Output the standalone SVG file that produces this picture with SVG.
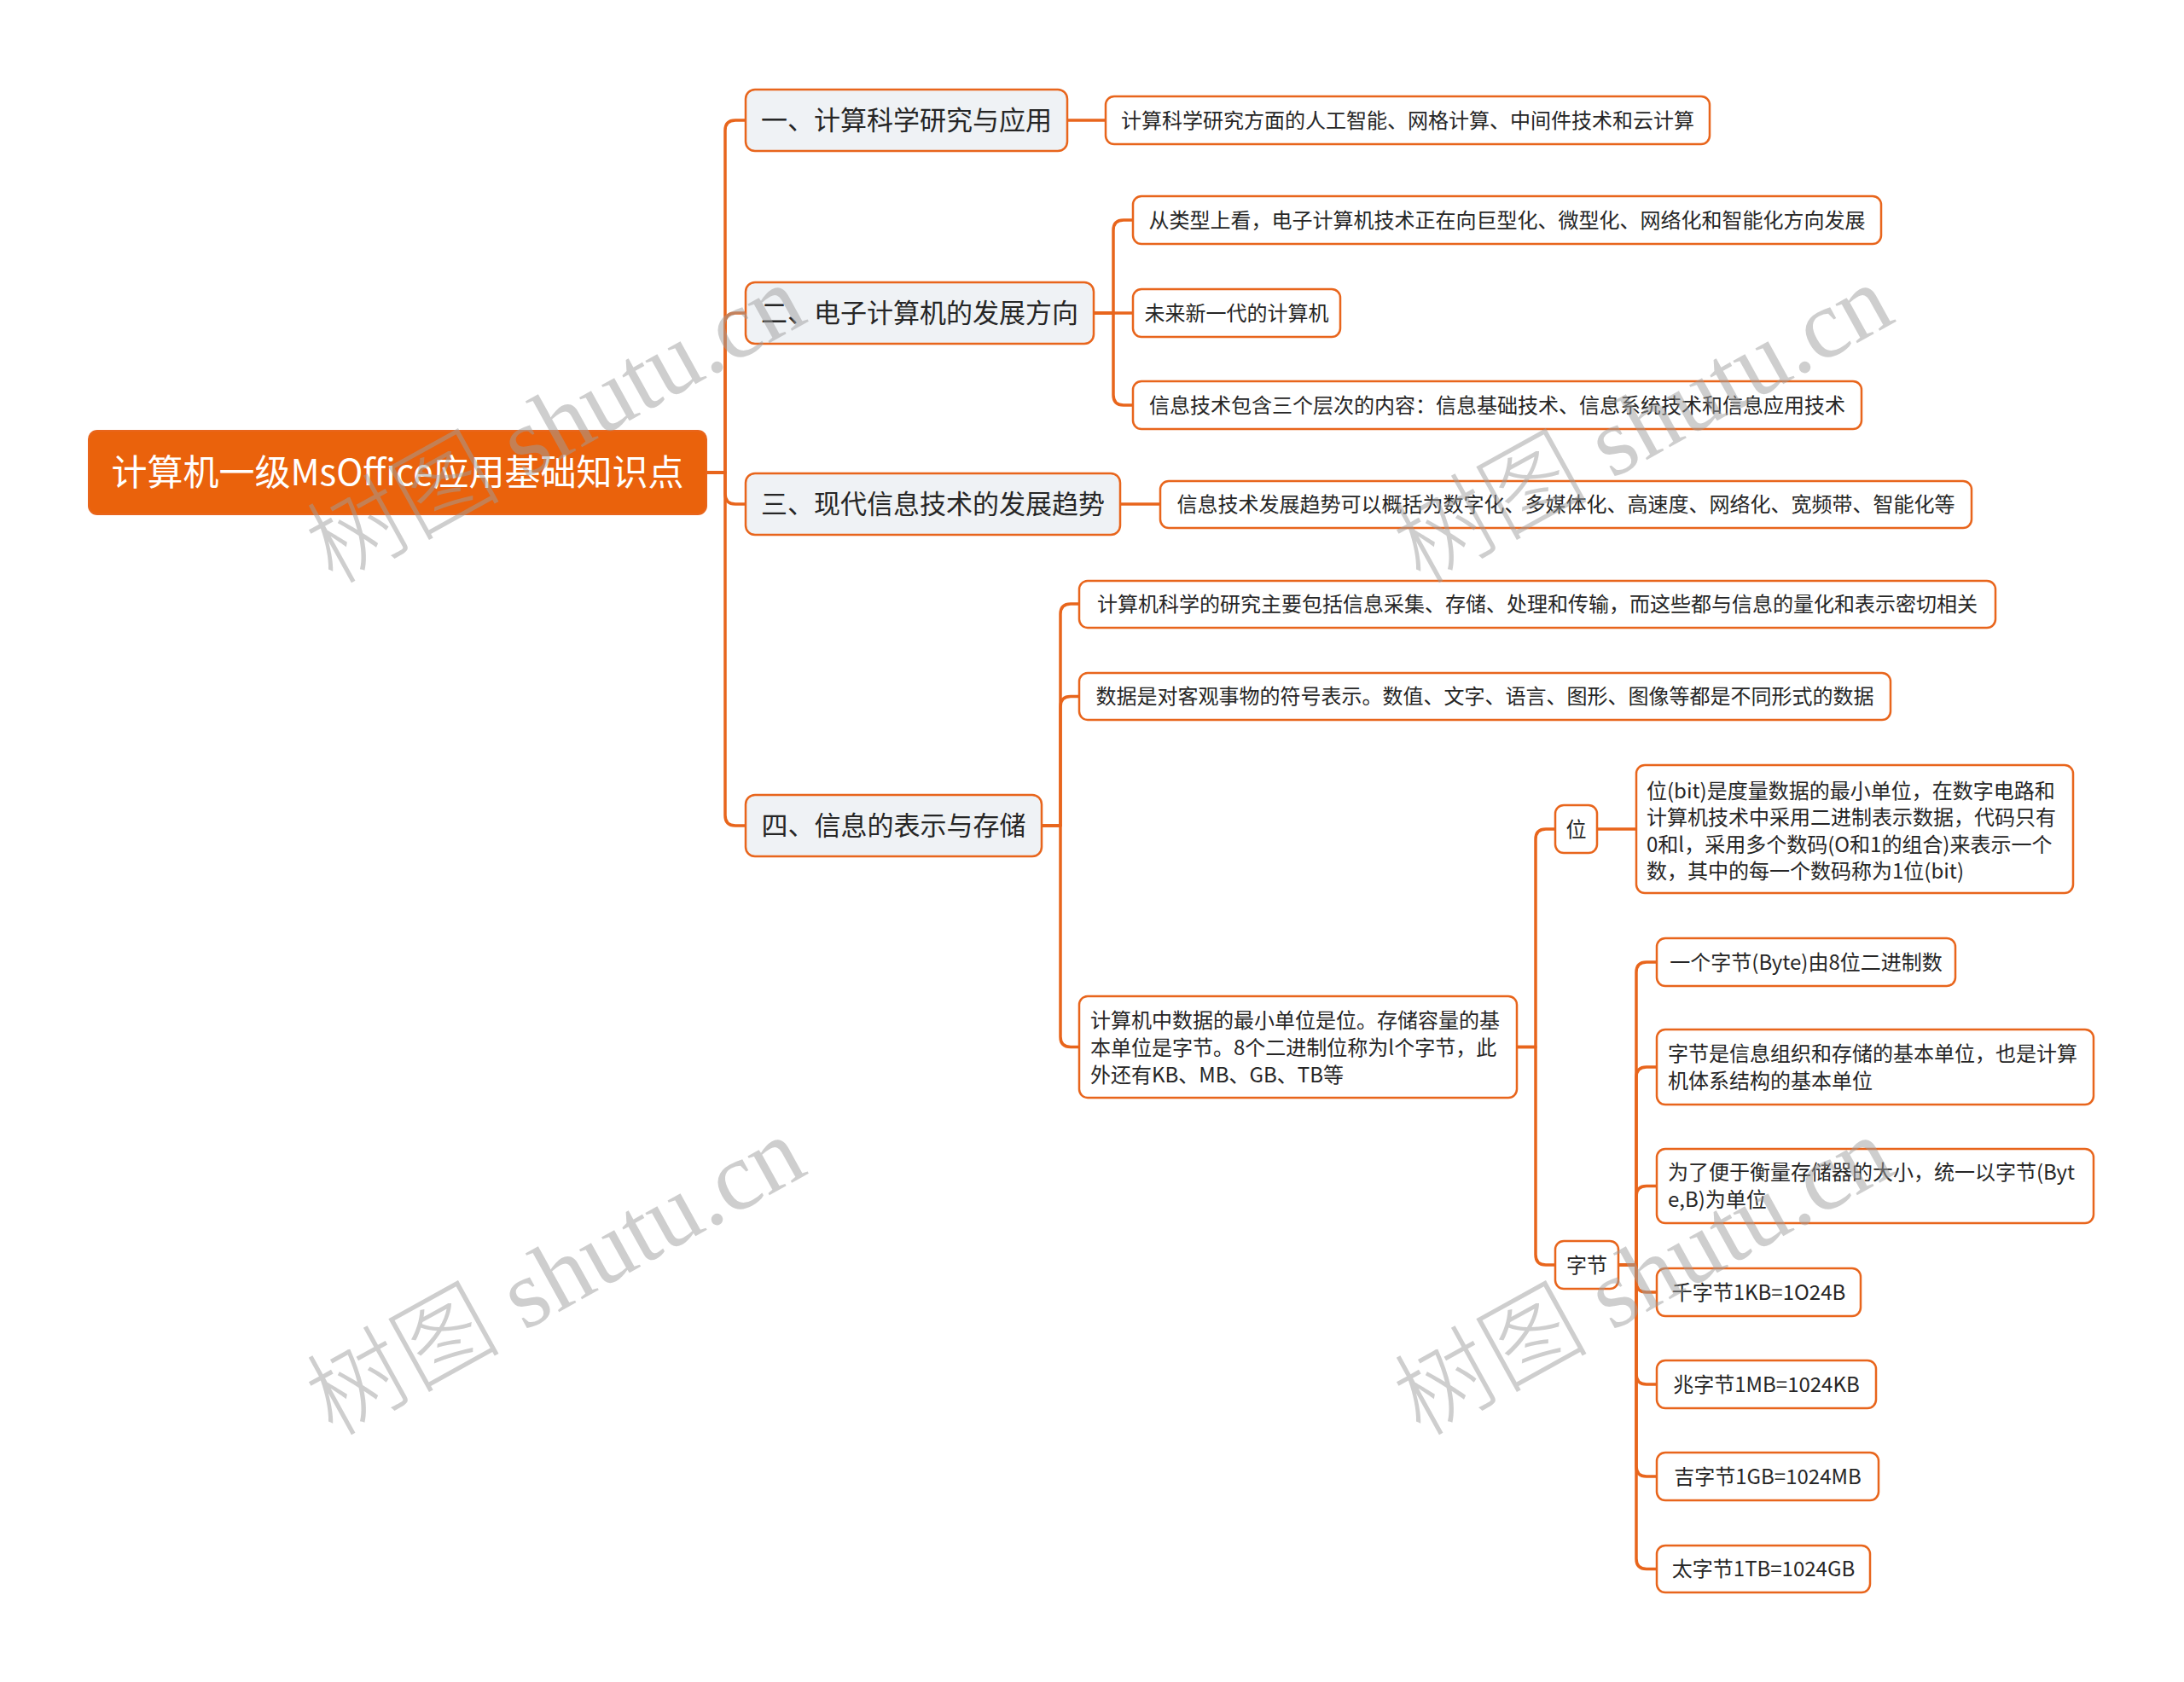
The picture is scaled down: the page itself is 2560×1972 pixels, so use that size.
<svg xmlns="http://www.w3.org/2000/svg" width="2560" height="1972" viewBox="0 0 2560 1972">
<style>
.conn { fill:none; stroke:#E8651C; stroke-width:3.5; stroke-linejoin:round; }
.root rect { fill:#EA620C; stroke:#E8651C; stroke-width:2; }
.root text { fill:#FFFFFF; font-size:42px; text-anchor:middle; }
.l1 rect { fill:#EFF2F5; stroke:#E8651C; stroke-width:2.5; }
.l1 text { font-size:31px; text-anchor:middle; }
.l2 rect { fill:#FFFFFF; stroke:#E8651C; stroke-width:2.5; }
.l2 text { font-size:24px; text-anchor:middle; }
.l2 text.ml { text-anchor:start; }
text { font-family:"Noto Sans CJK SC", "Noto Sans", sans-serif; fill:#262626; }
.wm { font-family:"Liberation Serif", "Noto Sans CJK SC", serif; font-size:114px; font-weight:300; fill:#9E9E9E; opacity:0.5; }
</style>
<rect x="0" y="0" width="2560" height="1972" fill="#FFFFFF"/>
<g id="connectors">
<path class="conn" d="M828,554 H850 V153 Q850,141 862,141 H874"/>
<path class="conn" d="M828,554 H850 V379 Q850,367 862,367 H874"/>
<path class="conn" d="M828,554 H850 V579 Q850,591 862,591 H874"/>
<path class="conn" d="M828,554 H850 V956 Q850,968 862,968 H874"/>
<path class="conn" d="M1251,141 H1296"/>
<path class="conn" d="M1282,367 H1305 V270 Q1305,258 1317,258 H1328"/>
<path class="conn" d="M1282,367 H1328"/>
<path class="conn" d="M1282,367 H1305 V463 Q1305,475 1317,475 H1328"/>
<path class="conn" d="M1313,591 H1360"/>
<path class="conn" d="M1221,968 H1243 V720 Q1243,708 1255,708 H1265"/>
<path class="conn" d="M1221,968 H1243 V828.5 Q1243,816.5 1255,816.5 H1265"/>
<path class="conn" d="M1221,968 H1243 V1215.5 Q1243,1227.5 1255,1227.5 H1265"/>
<path class="conn" d="M1778,1227.5 H1800 V984 Q1800,972 1812,972 H1823"/>
<path class="conn" d="M1778,1227.5 H1800 V1471 Q1800,1483 1812,1483 H1823"/>
<path class="conn" d="M1872,972 H1918"/>
<path class="conn" d="M1897,1483 H1918 V1140 Q1918,1128 1930,1128 H1942"/>
<path class="conn" d="M1897,1483 H1918 V1263 Q1918,1251 1930,1251 H1942"/>
<path class="conn" d="M1897,1483 H1918 V1402.5 Q1918,1390.5 1930,1390.5 H1942"/>
<path class="conn" d="M1897,1483 H1918 V1503 Q1918,1515 1930,1515 H1942"/>
<path class="conn" d="M1897,1483 H1918 V1611 Q1918,1623 1930,1623 H1942"/>
<path class="conn" d="M1897,1483 H1918 V1719 Q1918,1731 1930,1731 H1942"/>
<path class="conn" d="M1897,1483 H1918 V1827.5 Q1918,1839.5 1930,1839.5 H1942"/>
</g>
<g id="root" class="root">
<rect x="104" y="505" width="724" height="98" rx="10"/>
<text x="466" y="569">计算机一级MsOffice应用基础知识点</text>
</g>
<g id="n1" class="l1">
<rect x="874" y="105" width="377" height="72" rx="11"/>
<text x="1062.5" y="152">一、计算科学研究与应用</text>
</g>
<g id="n2" class="l1">
<rect x="874" y="331" width="408" height="72" rx="11"/>
<text x="1078" y="378">二、电子计算机的发展方向</text>
</g>
<g id="n3" class="l1">
<rect x="874" y="555" width="439" height="72" rx="11"/>
<text x="1093.5" y="602">三、现代信息技术的发展趋势</text>
</g>
<g id="n4" class="l1">
<rect x="874" y="932" width="347" height="72" rx="11"/>
<text x="1047.5" y="979">四、信息的表示与存储</text>
</g>
<g id="c1a" class="l2">
<rect x="1296" y="113" width="708" height="56" rx="10"/>
<text x="1650" y="149.6">计算科学研究方面的人工智能、网格计算、中间件技术和云计算</text>
</g>
<g id="c2a" class="l2">
<rect x="1328" y="230" width="877" height="56" rx="10"/>
<text x="1766.5" y="266.6">从类型上看，电子计算机技术正在向巨型化、微型化、网络化和智能化方向发展</text>
</g>
<g id="c2b" class="l2">
<rect x="1328" y="339" width="243" height="56" rx="10"/>
<text x="1449.5" y="375.6">未来新一代的计算机</text>
</g>
<g id="c2c" class="l2">
<rect x="1328" y="447" width="854" height="56" rx="10"/>
<text x="1755" y="483.6">信息技术包含三个层次的内容：信息基础技术、信息系统技术和信息应用技术</text>
</g>
<g id="c3a" class="l2">
<rect x="1360" y="564" width="951" height="55" rx="10"/>
<text x="1835.5" y="600.1">信息技术发展趋势可以概括为数字化、多媒体化、高速度、网络化、宽频带、智能化等</text>
</g>
<g id="c4a" class="l2">
<rect x="1265" y="681" width="1074" height="55" rx="10"/>
<text x="1802" y="717.1">计算机科学的研究主要包括信息采集、存储、处理和传输，而这些都与信息的量化和表示密切相关</text>
</g>
<g id="c4b" class="l2">
<rect x="1265" y="789" width="951" height="55" rx="10"/>
<text x="1740.5" y="825.1">数据是对客观事物的符号表示。数值、文字、语言、图形、图像等都是不同形式的数据</text>
</g>
<g id="c4c" class="l2">
<rect x="1265" y="1168" width="513" height="119" rx="10"/>
<text class="ml" x="1278"><tspan x="1278" y="1205">计算机中数据的最小单位是位。存储容量的基</tspan><tspan x="1278" y="1237">本单位是字节。8个二进制位称为l个字节，此</tspan><tspan x="1278" y="1269">外还有KB、MB、GB、TB等</tspan></text>
</g>
<g id="d1" class="l2">
<rect x="1823" y="944" width="49" height="56" rx="10"/>
<text x="1847.5" y="980.6">位</text>
</g>
<g id="d2" class="l2">
<rect x="1823" y="1455" width="74" height="56" rx="10"/>
<text x="1860" y="1491.6">字节</text>
</g>
<g id="e1" class="l2">
<rect x="1918" y="897" width="512" height="150" rx="10"/>
<text class="ml" x="1930"><tspan x="1930" y="935.6">位(bit)是度量数据的最小单位，在数字电路和</tspan><tspan x="1930" y="967.1">计算机技术中采用二进制表示数据，代码只有</tspan><tspan x="1930" y="998.6">0和l，采用多个数码(O和1的组合)来表示一个</tspan><tspan x="1930" y="1030.1">数，其中的每一个数码称为1位(bit)</tspan></text>
</g>
<g id="f1" class="l2">
<rect x="1942" y="1100" width="350" height="56" rx="10"/>
<text x="2117" y="1136.6">一个字节(Byte)由8位二进制数</text>
</g>
<g id="f2" class="l2">
<rect x="1942" y="1207" width="512" height="88" rx="10"/>
<text class="ml" x="1955"><tspan x="1955" y="1244">字节是信息组织和存储的基本单位，也是计算</tspan><tspan x="1955" y="1275.5">机体系结构的基本单位</tspan></text>
</g>
<g id="f3" class="l2">
<rect x="1942" y="1347" width="512" height="87" rx="10"/>
<text class="ml" x="1955"><tspan x="1955" y="1383.4">为了便于衡量存储器的大小，统一以字节(Byt</tspan><tspan x="1955" y="1414.9">e,B)为单位</tspan></text>
</g>
<g id="f4" class="l2">
<rect x="1942" y="1487" width="239" height="56" rx="10"/>
<text x="2061.5" y="1523.6">千字节1KB=1O24B</text>
</g>
<g id="f5" class="l2">
<rect x="1942" y="1595" width="257" height="56" rx="10"/>
<text x="2070.5" y="1631.6">兆字节1MB=1024KB</text>
</g>
<g id="f6" class="l2">
<rect x="1942" y="1703" width="260" height="56" rx="10"/>
<text x="2072" y="1739.6">吉字节1GB=1024MB</text>
</g>
<g id="f7" class="l2">
<rect x="1942" y="1812" width="250" height="55" rx="10"/>
<text x="2067" y="1848.1">太字节1TB=1024GB</text>
</g>
<g id="watermarks">
<text class="wm" x="390" y="686" transform="rotate(-29 390 686)">树图 shutu.cn</text>
<text class="wm" x="390" y="1685" transform="rotate(-29 390 1685)">树图 shutu.cn</text>
<text class="wm" x="1665" y="686" transform="rotate(-29 1665 686)">树图 shutu.cn</text>
<text class="wm" x="1665" y="1685" transform="rotate(-29 1665 1685)">树图 shutu.cn</text>
</g>
</svg>
